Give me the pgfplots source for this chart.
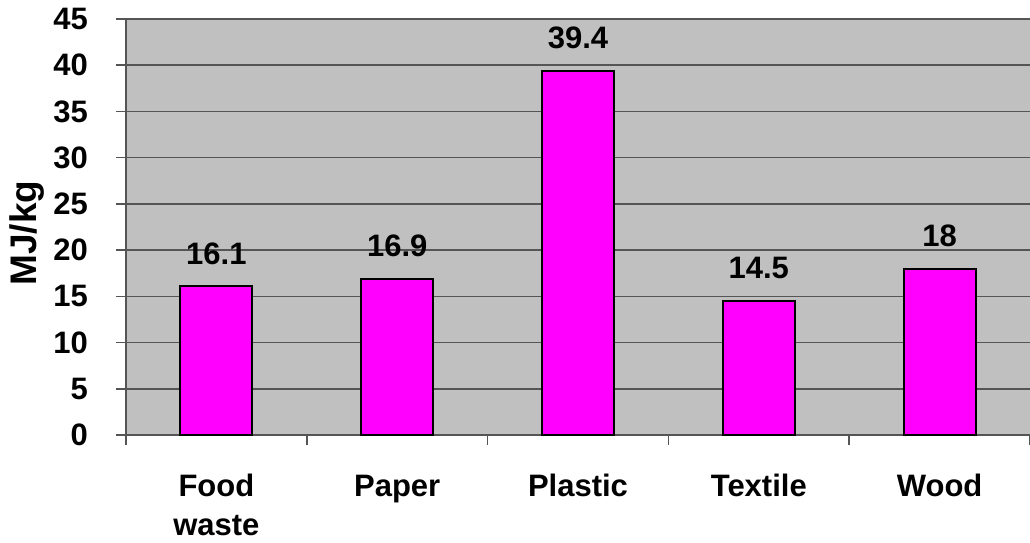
\documentclass[border=0pt]{standalone}
\usepackage{fontspec}
\setmainfont{Liberation Sans}
\usepackage{pgfplots}
\pgfplotsset{compat=1.18}
\definecolor{bg}{HTML}{C0C0C0}
\definecolor{grd}{HTML}{555555}
\definecolor{bar}{HTML}{FF00FF}
\begin{document}
\begin{tikzpicture}
\begin{axis}[
  scale only axis,
  width=904pt, height=416pt,
  xmin=-0.5, xmax=4.5, ymin=0, ymax=45,
  enlargelimits=false,
  clip=false,
  axis background/.style={fill=bg},
  axis x line=bottom, axis y line=left,
  axis line style={draw=grd, line width=1.5pt, -},
  ytick={0,5,...,45},
  ymajorgrids, grid style={draw=grd, line width=1.5pt},
  xtick={0,1,2,3,4},
  xticklabels={Food\\waste, Paper\\\mbox{}, Plastic\\\mbox{}, Textile\\\mbox{}, Wood\\\mbox{}},
  minor xtick={-0.5,0.5,1.5,2.5,3.5,4.5},
  major x tick style={draw=none},
  tick align=outside,
  major tick length=10pt, minor tick length=10pt,
  tick style={draw=grd, line width=1.5pt},
  /pgf/number format/assume math mode=true,
  ticklabel style={font=\fontsize{31}{39}\selectfont\bfseries},
  xticklabel style={align=center, anchor=base, yshift=-90pt, inner sep=0pt},
  xticklabel shift=0pt,
  yticklabel style={anchor=east, inner sep=0pt, xshift=-28pt},
  yticklabel shift=0pt,
  ylabel={MJ/kg},
  ylabel style={at={(rel axis cs:-0.09845,0.4856)}, anchor=base, font=\fontsize{37}{40}\selectfont\bfseries},
  nodes near coords,
  nodes near coords style={anchor=base, yshift=22pt, inner sep=0pt, font=\fontsize{31}{37}\selectfont\bfseries},
]
\addplot[ybar, bar width=72pt, fill=bar, draw=black, line width=2pt]
  coordinates {(0,16.1) (1,16.9) (2,39.4) (3,14.5) (4,18)};
\end{axis}
\pgfresetboundingbox
\path[use as bounding box] (-126pt,-108pt) rectangle (904pt,435pt);
\end{tikzpicture}
\end{document}
